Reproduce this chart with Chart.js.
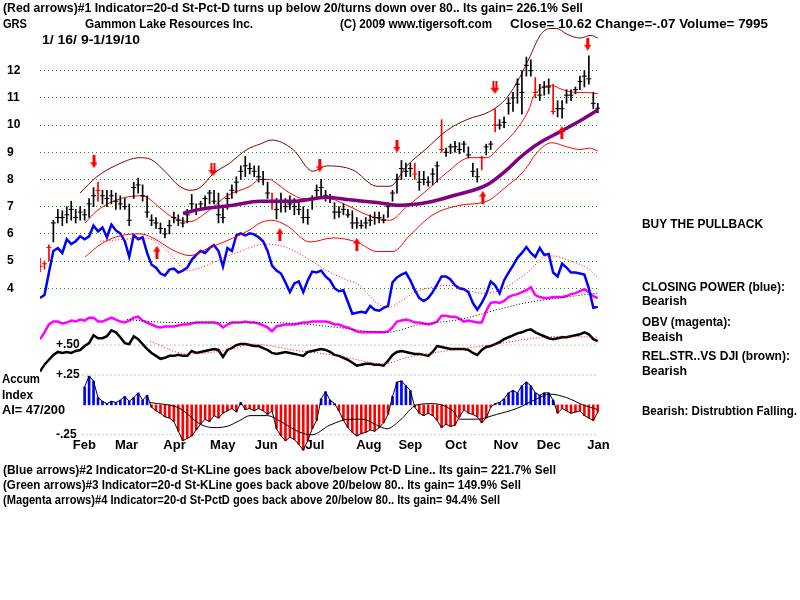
<!DOCTYPE html>
<html><head><meta charset="utf-8">
<script src="https://cdn.jsdelivr.net/npm/chart.js@4.4.1/dist/chart.umd.min.js"></script>
<style>
html,body{margin:0;padding:0;background:#fff;}
#wrap{position:relative;width:800px;height:600px;overflow:hidden;background:#fff;}
canvas{position:absolute;left:0;top:0;}
.t{position:absolute;white-space:nowrap;font-family:"Liberation Sans",Arial,sans-serif;color:#000;transform-origin:0 50%;line-height:1;}
</style></head><body>
<div id="wrap"><canvas id="c" width="800" height="600"></canvas></div>
<script>
// ---------------- DATA ----------------
const dayStep = 2; // one bar every 2 trading days, from 1/16/09
const priceTicks = [4,5,6,7,8,9,10,11,12];
const monthLabels = ["Feb","Mar","Apr","May","Jun","Jul","Aug","Sep","Oct","Nov","Dec","Jan"];
const monthTickDays = [19.9,38.8,60.3,81.9,101.4,123.2,147.4,166.0,186.4,208.8,228.0,250.3];
const aiTickValues = [0.5,0.25,-0.25];
const aiTickLabels = ["+.50","+.25","-.25"];

const hi = [5.1,5.0,5.6,6.5,6.9,6.85,7.0,7.2,6.9,7.0,
6.9,7.3,7.7,7.9,7.6,7.6,7.6,7.5,7.4,7.3,
7.1,7.9,8.05,7.8,7.4,6.7,6.6,6.4,6.2,6.5,
6.8,6.7,6.6,6.9,7.45,7.1,7.2,7.4,7.6,7.6,
7.5,7.0,7.5,7.8,8.1,8.5,8.85,8.6,8.5,8.5,
8.3,7.9,7.5,7.3,7.5,7.3,7.4,7.3,7.2,7.0,
6.9,7.4,7.8,8.0,7.6,7.45,7.15,7.0,7.1,6.9,
6.85,6.6,6.5,6.6,6.7,6.8,6.8,6.7,7.15,7.6,
8.2,8.7,8.6,8.6,8.6,8.3,8.3,8.1,8.4,8.65,
10.2,9.15,9.3,9.4,9.35,9.4,9.2,8.6,8.4,8.85,
9.3,9.4,10.6,10.2,10.3,11.0,11.2,11.7,12.0,12.5,
12.4,11.75,11.5,11.6,11.7,11.5,10.9,10.9,11.3,11.3,
11.4,11.8,12.0,12.55,11.2,10.8];
const lo = [4.6,4.7,5.0,5.7,6.4,6.3,6.4,6.5,6.4,6.5,
6.5,6.6,7.0,7.2,7.1,7.0,7.1,6.9,6.9,6.9,
6.3,7.3,7.5,7.2,6.6,6.3,6.2,6.0,5.85,6.0,
6.4,6.3,6.25,6.4,6.8,6.7,6.9,7.0,7.1,7.1,
6.4,6.4,6.9,7.3,7.5,8.0,8.1,8.2,8.1,7.9,
7.8,7.3,6.9,6.55,6.8,6.8,6.9,6.7,6.7,6.4,
6.35,6.9,7.3,7.4,7.2,7.15,6.55,6.6,6.7,6.6,
6.2,6.2,6.2,6.2,6.3,6.35,6.4,6.4,6.6,7.2,
7.5,8.0,8.1,8.1,8.0,7.6,7.8,7.75,7.8,7.9,
9.0,8.85,8.95,9.0,8.95,9.0,8.8,8.1,7.9,8.35,
8.9,9.1,9.75,9.85,9.9,10.4,10.5,10.8,10.4,11.8,
11.8,11.0,10.9,11.1,11.15,10.4,10.3,10.25,10.8,10.9,
11.15,11.3,11.4,11.5,10.6,10.45];
const cl = [4.8,4.9,5.5,6.4,6.6,6.6,6.7,6.9,6.6,6.8,
6.7,7.1,7.4,7.6,7.4,7.3,7.4,7.2,7.1,7.0,
6.5,7.7,7.8,7.4,6.8,6.5,6.4,6.2,6.0,6.3,
6.6,6.5,6.4,6.7,7.1,6.9,7.1,7.3,7.5,7.2,
6.7,6.6,7.3,7.6,7.9,8.3,8.5,8.4,8.3,8.1,
8.0,7.5,7.2,6.9,7.2,7.0,7.1,7.0,6.9,6.6,
6.6,7.3,7.6,7.7,7.4,7.3,6.8,6.8,6.9,6.7,
6.4,6.4,6.3,6.4,6.5,6.6,6.6,6.5,7.0,7.5,
8.0,8.4,8.3,8.4,8.2,7.9,8.0,7.9,8.2,8.5,
9.1,9.0,9.2,9.2,9.1,9.3,8.9,8.3,8.1,8.8,
9.2,9.3,10.0,10.0,10.1,10.8,11.0,11.5,11.2,12.2,
12.0,11.2,11.1,11.4,11.4,10.5,10.6,10.6,11.1,11.1,
11.3,11.6,11.8,11.7,10.8,10.62];
const redBarIdx = [0,1,2,13,52,84,90,99,102,111,115];

// bands / moving averages : [trading day, price]
const upperBand = [[17.9,7.5],[25.5,8.1],[33.6,8.5],[44.8,8.8],[49.3,8.75],[56,8.3],[61.8,7.8],[67.2,7.6],[71.7,7.7],[77.5,8.2],[85,8.6],[92.7,9.1],[98.6,9.3],[103.9,9.45],[113.4,9.1],[122.3,8.3],[128.6,8.5],[140.2,8.35],[151,7.75],[156.8,7.75],[164.4,8.5],[173.4,9.15],[182.3,9.8],[191.3,10.2],[201.6,10.5],[209.2,11.0],[215,11.75],[219.5,12.5],[224.2,13.3],[228.5,13.55],[231.6,13.55],[236,13.35],[242,13.2],[247,13.3],[250,13.2]];
const midLine = [[20.2,6.4],[25.5,6.85],[34.5,7.25],[44.8,7.4],[47.9,7.35],[53.8,6.95],[59.6,6.6],[67.2,6.45],[74.8,6.8],[83.8,7.4],[94.1,7.75],[98.6,8.0],[103,8.0],[104.4,7.95],[112,7.5],[117.8,7.3],[128.6,7.3],[138.9,7.0],[146.5,6.7],[156.8,6.5],[164.4,7.0],[173.4,7.6],[182.3,8.25],[192.7,8.8],[200.3,8.8],[206.1,9.2],[213.7,9.85],[219.5,10.65],[220.9,11.0],[229.4,11.45],[234.3,11.3],[240.6,11.2],[245,11.2],[250,11.15]];
const lowerBand = [[20.2,5.15],[26.9,5.6],[34.5,5.9],[44.8,6.0],[50.6,5.85],[59.6,5.4],[67.2,5.2],[74.8,5.45],[83.8,5.75],[94.1,6.15],[98.6,6.4],[103.9,6.5],[110.7,6.3],[121,5.7],[131.3,5.85],[142,5.7],[151,5.35],[158.2,5.35],[165.8,5.95],[176.1,6.7],[188.2,7.05],[200.3,7.2],[209.2,7.75],[215,8.15],[219.5,8.6],[220.9,8.8],[229.4,9.35],[236.1,9.2],[241.9,9.1],[246.4,9.15],[250,9.05]];
const ma50 = [[64.1,6.75],[71.7,6.9],[86.5,7.05],[98.6,7.2],[113.4,7.2],[128.6,7.35],[138.9,7.25],[151,7.15],[161.3,7.05],[173.4,7.15],[185,7.4],[200.3,7.8],[209.2,8.35],[215,8.8],[219.5,9.1],[224,9.35],[233,9.75],[241.9,10.15],[250,10.55]];

// signal arrows : [trading day, price]
const downArrows = [[24.2,8.65],[125.4,8.5],[160,9.22],[245.5,12.97]];
const downDoubleArrows = [[77.5,8.36],[203.9,11.39]];
const upArrows = [[52.4,5.33],[107.5,5.98],[142,5.62],[198.5,7.35],[233.9,9.73]];

// Closing Power (blue), index units
const closingPower = [32,35,58,80,83,78,92,87,90,95,
92,95,106,100,104,94,107,101,98,90,
74,96,92,94,78,66,63,57,55,61,
62,58,60,63,71,76,80,78,83,86,
80,64,83,80,96,98,96,98,97,94,
90,80,65,60,57,48,38,47,49,38,
50,59,58,60,54,50,42,39,40,28,
16,17,18,17,24,20,19,22,24,48,
53,56,58,50,40,32,29,32,38,46,
54,54,51,45,42,41,38,27,20,27,
36,49,45,37,50,58,65,73,78,84,
78,74,83,76,77,58,54,67,63,58,
58,57,56,42,22,23];
const closingPowerMA = [[27,90],[48,93],[58,78],[66,60],[72,63],[86.5,77],[101.7,87],[110,84],[121,71],[128.6,60],[138,50],[142,47],[151,27],[155.5,22],[162.6,30],[167.1,37],[176.1,43],[183.7,45],[191.3,40],[198.5,37],[206.1,40],[213.7,50],[219.5,60],[225.4,73],[229.8,75],[237.5,70],[245,63],[250,53]];

// OBV (magenta), index units
const obv = [10,17,25,28,28,26,27,29,28,30,
29,32,32,28,28,30,32,30,28,27,
29,32,33,29,27,25,23,22,23,23,
23,24,25,25,26,27,27,27,27,27,
26,22,25,27,27,27,28,27,27,26,
24,22,18,23,24,25,25,25,26,27,
27,28,28,28,28,27,25,25,23,22,
20,18,17,17,17,17,17,17,18,22,
28,29,30,29,27,27,26,25,26,28,
34,34,33,33,31,28,29,28,27,27,
39,47,48,47,49,53,55,56,58,60,
63,55,53,52,52,53,53,53,54,56,
57,59,61,58,54,52];
const obvMA = [[39,30],[60,27],[82,27],[101.7,27],[121,25],[133,22],[155.5,17],[170,25],[188,30],[204.7,40],[217.5,47],[236,53],[250,57]];

// Relative strength vs DJI (black), index units
const relStr = [7,14,19,24,27,26,27,26,28,29,
33,36,44,41,41,43,49,47,42,36,
35,43,40,35,30,26,23,20,21,23,
23,24,23,23,28,26,27,28,29,30,
29,22,29,31,34,35,35,34,33,33,
31,29,26,25,26,27,26,25,24,23,
27,28,29,30,29,27,24,23,21,19,
16,13,14,15,15,14,14,13,18,24,
27,28,27,26,25,25,24,23,27,33,
32,31,30,30,30,30,29,26,24,29,
32,33,35,37,40,42,44,46,47,49,
50,47,45,43,41,40,41,42,42,43,
44,45,47,45,40,38];
const relStrMA = [[49.3,38],[65.9,25],[86.5,30],[95,35],[116.5,28],[121,27],[136,22],[153.6,15],[165.8,22],[188.2,30],[204.7,35],[218,40],[234,43],[250,42]];

// Accumulation Index (starts at bar 10)
const accumIndex = [null,null,null,null,null,null,null,null,null,null,
0.15,0.24,0.2,0.06,0.03,0.01,0.03,0.02,0.04,0.07,
0.03,0.06,0.1,0.04,0.08,-0.02,-0.05,-0.07,-0.1,-0.11,
-0.14,-0.22,-0.3,-0.28,-0.26,-0.21,-0.16,-0.12,-0.14,-0.09,
-0.11,-0.07,-0.05,-0.03,-0.06,0.02,-0.04,-0.03,-0.05,-0.03,
-0.05,-0.08,-0.05,-0.2,-0.26,-0.3,-0.27,-0.29,-0.33,-0.38,
-0.3,-0.2,-0.13,0.05,0.11,0.04,0.01,-0.05,-0.13,-0.19,
-0.23,-0.26,-0.24,-0.23,-0.21,-0.22,-0.19,-0.15,-0.08,0.07,
0.19,0.2,0.16,0.12,-0.02,-0.07,-0.09,-0.07,-0.09,-0.13,
-0.19,-0.16,-0.18,-0.17,-0.1,-0.04,-0.07,-0.08,-0.1,-0.15,
-0.11,-0.02,0.01,0.02,0.05,0.1,0.12,0.1,0.16,0.19,
0.16,0.1,0.08,0.1,0.1,0.04,-0.07,-0.03,-0.05,-0.07,
-0.06,-0.05,-0.09,-0.11,-0.13,-0.06];
const accumIndexMA = [[49.3,0.02],[62.7,-0.03],[71.7,-0.16],[77.5,-0.19],[83.8,-0.18],[89.6,-0.13],[94.1,-0.09],[101.7,-0.09],[108.9,-0.15],[116.5,-0.23],[121.9,-0.25],[129.9,-0.17],[138.9,-0.12],[144.7,-0.12],[151,-0.17],[155.5,-0.2],[161.3,-0.13],[168.9,0],[176.1,0.01],[185,-0.05],[188.2,-0.12],[195.8,-0.12],[204.7,-0.08],[213.7,-0.03],[222.7,0.05],[228.5,0.09],[236.1,0.06],[243.3,0],[250,-0.04]];
const aiGridStartDay = 19;

// ---------------- BUILD ----------------
const FONT = '"Liberation Sans", Arial, sans-serif';
const kx = k => k * dayStep;
const seriesXY = arr => arr.map((v,k)=>({x:kx(k), y:v})).filter(p=>p.y!==null);
const pairXY = arr => arr.map(p=>({x:p[0], y:p[1]}));
const barColors = hi.map((h,k)=> redBarIdx.includes(k) ? '#ff0000' : '#000000');

function arrowImg(up, dbl){
  const w = dbl?9:7, h = 13;
  const c = document.createElement('canvas'); c.width = w; c.height = h;
  const g = c.getContext('2d'); g.fillStyle = '#ff0000';
  if (up) { g.translate(0,h); g.scale(1,-1); }
  if (dbl) { g.fillRect(2,0,2,8); g.fillRect(5,0,2,8); } else { g.fillRect(2,0,3,8); }
  g.beginPath(); g.moveTo(0,7); g.lineTo(w,7); g.lineTo(w/2,h); g.closePath(); g.fill();
  return c;
}

const lineDs = (data, axis, color, width, extra) => Object.assign({
  type:'line', data, yAxisID:axis, borderColor:color, borderWidth:width,
  pointRadius:0, fill:false, tension:0
}, extra||{});

const aiData = seriesXY(accumIndex);

const datasets = [
  {type:'line', data:pairXY(downArrows), yAxisID:'y', showLine:false, pointStyle:arrowImg(false,false), pointRadius:5, order:0},
  {type:'line', data:pairXY(downDoubleArrows), yAxisID:'y', showLine:false, pointStyle:arrowImg(false,true), pointRadius:5, order:0},
  {type:'line', data:pairXY(upArrows), yAxisID:'y', showLine:false, pointStyle:arrowImg(true,false), pointRadius:5, order:0},
  lineDs(pairXY(ma50), 'y', '#800080', 3.5, {order:1, tension:0.4, cubicInterpolationMode:'monotone'}),
  {type:'bar', data:hi.map((h,k)=>({x:kx(k), y:[lo[k],h]})), yAxisID:'y', backgroundColor:barColors, barThickness:1, grouped:false, borderWidth:0, order:2},
  {type:'line', data:cl.map((c,k)=>({x:kx(k), y:c})), yAxisID:'y', showLine:false, pointStyle:'line', pointRadius:2.5, pointBorderWidth:1, pointBorderColor:barColors, order:2},
  lineDs(pairXY(upperBand), 'y', '#800000', 1, {order:3, tension:0.4, cubicInterpolationMode:'monotone'}),
  lineDs(pairXY(midLine), 'y', '#ff0000', 1, {order:3, tension:0.4, cubicInterpolationMode:'monotone'}),
  lineDs(pairXY(lowerBand), 'y', '#ff0000', 1, {order:3, tension:0.4, cubicInterpolationMode:'monotone'}),
  lineDs(pairXY(closingPowerMA), 'yCP', '#ff0000', 1, {order:4, borderDash:[1,2], tension:0.4, cubicInterpolationMode:'monotone'}),
  lineDs(seriesXY(closingPower), 'yCP', '#0000ff', 2.5, {order:5}),
  lineDs(pairXY(obvMA), 'yOBV', '#000000', 1, {order:6, borderDash:[1,2], tension:0.4, cubicInterpolationMode:'monotone'}),
  lineDs(seriesXY(obv), 'yOBV', '#ff00ff', 2.5, {order:7}),
  lineDs(pairXY(relStrMA), 'yRS', '#ff0000', 1, {order:8, borderDash:[1,2], tension:0.4, cubicInterpolationMode:'monotone'}),
  lineDs(seriesXY(relStr), 'yRS', '#000000', 2.5, {order:9}),
  lineDs(pairXY(accumIndexMA), 'yAI', '#000000', 1, {order:10, tension:0.4, cubicInterpolationMode:'monotone'}),
  lineDs(aiData, 'yAI', '#000000', 1, {order:11}),
  {type:'bar', data:aiData, yAxisID:'yAI', backgroundColor:aiData.map(p=>p.y>=0?'#0000ff':'#ff0000'), barThickness:2, grouped:false, borderWidth:0, order:12},
];
aiTickValues.forEach(v=>{
  datasets.push(lineDs([{x:aiGridStartDay,y:v},{x:kx(hi.length-1),y:v}], 'yAI', '#808080', 1, {order:13, borderDash:[1,3]}));
});

const aiLabelPlugin = {
  id:'aiLabels',
  afterDraw(chart){
    const s = chart.scales.yAI, ctx = chart.ctx;
    ctx.save();
    ctx.font = 'bold 12px ' + FONT;
    ctx.fillStyle = '#000'; ctx.textBaseline = 'middle'; ctx.textAlign = 'left';
    aiTickValues.forEach((v,i)=> ctx.fillText(aiTickLabels[i], chart.chartArea.left + 16, s.getPixelForValue(v)));
    ctx.restore();
  }
};

new Chart(document.getElementById('c'), {
  type:'line',
  data:{datasets},
  plugins:[aiLabelPlugin],
  options:{
    responsive:false, animation:false, devicePixelRatio:1, events:[],
    layout:{padding:{left:7, right:200, top:0, bottom:0}},
    plugins:{legend:{display:false}, tooltip:{enabled:false}},
    scales:{
      x:{type:'linear', min:0, max:251, offset:false, position:{y:-1.4},
         grid:{display:false, drawTicks:false}, border:{display:false},
         afterBuildTicks:s=>{ s.ticks = monthTickDays.map(v=>({value:v})); },
         ticks:{autoSkip:false, maxRotation:0, padding:3, color:'#000',
                font:{family:FONT, size:13, weight:'bold'},
                callback:(v,i)=>monthLabels[i]}},
      y:{type:'linear', position:'left', min:-7.243, max:14.378,
         afterBuildTicks:s=>{ s.ticks = priceTicks.map(v=>({value:v})); },
         afterFit:s=>{ s.width = 33; s.paddingTop = 0; s.paddingBottom = 0; },
         grid:{color:'#00a000', lineWidth:1, drawTicks:false},
         border:{display:false, dash:[1,3]},
         ticks:{crossAlign:'far', padding:0, color:'#000', font:{family:FONT, size:12, weight:'bold'}, callback:v=>String(v)}},
      yCP:{type:'linear', display:false, min:-270, max:330},
      yOBV:{type:'linear', display:false, min:-250, max:350},
      yRS:{type:'linear', display:false, min:-220, max:380},
      yAI:{type:'linear', display:false, min:-1.582, max:3.336}
    }
  }
});

// ---------------- TEXT ----------------
const texts = [
 ["(Red arrows)#1 Indicator=20-d St-Pct-D turns up below 20/turns down over 80.. Its gain= 226.1% Sell", 3, 8, 580, 1],
 ["GRS", 3, 24, 24, 1],
 ["Gammon Lake Resources Inc.", 85, 24, 168, 1],
 ["(C) 2009 www.tigersoft.com", 340, 24, 152, 1],
 ["Close= 10.62  Change=-.07 Volume= 7995", 510, 24, 258, 1],
 ["1/ 16/ 9-1/19/10", 42, 40, 98, 1],
 ["BUY THE PULLBACK", 642, 224, 121, 1],
 ["CLOSING POWER (blue):", 642, 287, 143, 1],
 ["Bearish", 642, 301, 45, 1],
 ["OBV (magenta):", 642, 322, 89, 1],
 ["Beaish", 642, 337, 41, 1],
 ["REL.STR..VS DJI (brown):", 642, 356, 148, 1],
 ["Bearish", 642, 371, 45, 1],
 ["Bearish: Distrubtion Falling.", 642, 411, 155, 1],
 ["Accum", 2, 379, 38, 1],
 ["Index", 2, 395, 31, 1],
 ["AI= 47/200", 2, 410, 63, 1],
 ["(Blue arrows)#2 Indicator=20-d St-KLine goes back above/below Pct-D Line.. Its gain= 221.7% Sell", 3, 470, 553, 1],
 ["(Green arrows)#3 Indicator=20-d St-KLine goes back above 20/below 80.. Its gain= 149.9% Sell", 3, 485, 518, 1],
 ["(Magenta arrows)#4 Indicator=20-d St-PctD goes back above 20/below 80.. Its gain= 94.4% Sell", 3, 500, 497, 1]
];
const wrap = document.getElementById('wrap');
texts.forEach(([s,x,cy,w,b])=>{
  const d = document.createElement('div');
  d.className = 't'; d.textContent = s;
  const fs = 12;
  d.style.fontSize = fs + 'px';
  d.style.fontWeight = b ? 'bold' : 'normal';
  d.style.left = x + 'px'; d.style.top = (cy - fs/2) + 'px';
  wrap.appendChild(d);
  const aw = d.getBoundingClientRect().width;
  if (aw > 0) { const sc = Math.max(0.75, Math.min(1.25, w/aw)); d.style.transform = 'scaleX(' + sc + ')'; }
});
</script>
</body></html>
